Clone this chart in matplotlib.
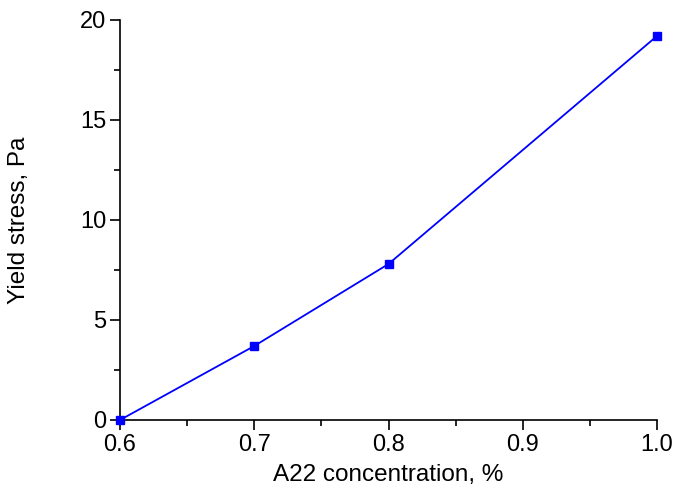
import matplotlib
matplotlib.use("Agg")
import matplotlib.pyplot as plt
from matplotlib.ticker import MultipleLocator

# values
conc = [0.6, 0.7, 0.8, 1.0]
yield_stress = [0.0, 3.7, 7.8, 19.2]

plt.rcParams['font.family'] = ['Liberation Sans', 'DejaVu Sans']

fig = plt.figure(figsize=(6.78, 4.95), dpi=100)
ax = fig.add_axes([120 / 678, 75 / 495, 537 / 678, 400 / 495])

ax.plot(conc, yield_stress, color='#0000ff', lw=1.3, marker='s', ms=6,
        clip_on=False, zorder=3)

ax.set_xlim(0.6, 1.0)
ax.set_ylim(0, 20)
ax.xaxis.set_major_locator(MultipleLocator(0.1))
ax.xaxis.set_minor_locator(MultipleLocator(0.05))
ax.yaxis.set_major_locator(MultipleLocator(5))
ax.yaxis.set_minor_locator(MultipleLocator(2.5))
ax.xaxis.set_major_formatter(lambda v, p: f"{v:.1f}")

for s in ['top', 'right']:
    ax.spines[s].set_visible(False)
for s in ['left', 'bottom']:
    ax.spines[s].set_linewidth(1.2)

ax.tick_params(which='major', direction='out', length=7, width=1.2, labelsize=17, pad=3)
ax.tick_params(which='minor', direction='out', length=4, width=1.2)

ax.set_xlabel('A22 concentration, %', fontsize=17.5, labelpad=6)
ax.set_ylabel('Yield stress, Pa', fontsize=17.5, labelpad=36)

fig.savefig('out.png', dpi=100)
